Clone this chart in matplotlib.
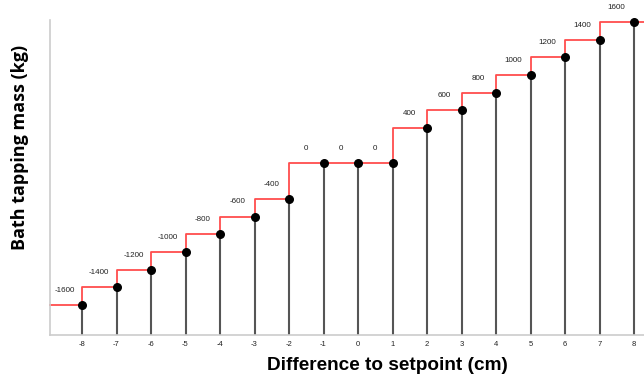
import matplotlib
matplotlib.use("Agg")
import matplotlib.pyplot as plt
import numpy as np

x_vals = [-8, -7, -6, -5, -4, -3, -2, -1, 0, 1, 2, 3, 4, 5, 6, 7, 8]
mass = [-1600, -1400, -1200, -1000, -800, -600, -400, 0, 0, 0, 400, 600, 800, 1000, 1200, 1400, 1600]
x_ticks = [-8, -7, -6, -5, -4, -3, -2, -1, 0, 1, 2, 3, 4, 5, 6, 7, 8]

fig = plt.figure(figsize=(6.44, 3.77), dpi=100)
ax = fig.add_axes([50/644, 42/377, 1 - 50/644, (335-20)/377])

px_per_unit = 283 / 3200.0
y_bottom = -1600 - 30 / px_per_unit
y_top = 1600 + 2 / px_per_unit
x_left = -8 - 32 / 34.5
x_right = -8 + (644 - 82) / 34.5
ax.set_xlim(x_left, x_right)
ax.set_ylim(y_bottom, y_top)

# red step line
sx = [x_left] + x_vals + [x_right]
sy = [mass[0]] + mass + [mass[-1]]
ax.step(sx, sy, where='pre', color='#ff4d4d', lw=1.3, zorder=2, clip_on=False)

# stems
ax.vlines(x_vals, y_bottom, mass, color='#555555', lw=1.5, zorder=1)

# points
ax.scatter(x_vals, mass, s=30, color='black', zorder=3, clip_on=False)

for xv, m in zip(x_vals, mass):
    ax.annotate(str(m), (xv - 0.5, m), xytext=(0, 8), textcoords='offset points',
                ha='center', va='bottom', fontsize=5.8, color='#222222',
                family='Liberation Sans', annotation_clip=False)

for s in ['top', 'right']:
    ax.spines[s].set_visible(False)
for s in ['left', 'bottom']:
    ax.spines[s].set_color('#cccccc')
    ax.spines[s].set_linewidth(1.2)

ax.set_xticks(x_ticks)
ax.set_xticklabels([str(t) for t in x_ticks], fontsize=5.5, color='#222222',
                   family='Liberation Sans')
ax.tick_params(axis='x', length=0, pad=4)
ax.set_yticks([])

fig.text(387/644, 1 - 365/377, 'Difference to setpoint (cm)', fontsize=13.7,
         fontweight='bold', ha='center', va='center', family='Liberation Sans')
fig.text(20/644, 1 - 147/377, 'Bath tapping mass (kg)', rotation=90, fontsize=13,
         fontweight='bold', ha='center', va='center', family='Open Sans')

fig.savefig('out.png', dpi=100)
